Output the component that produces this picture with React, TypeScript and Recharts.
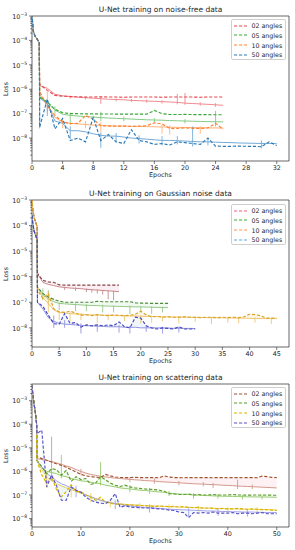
import React from 'react';
import {
  ComposedChart,
  Line,
  Area,
  XAxis,
  YAxis,
  ReferenceArea,
  ErrorBar,
} from 'recharts';

const FONT = '"DejaVu Sans", sans-serif';
const INK = '#262626';

const ANGLES = ['02 angles', '05 angles', '10 angles', '50 angles'];

const upTo = (n: number) => Array.from({ length: n }, (_, i) => i + 1);
const HEAD_EPOCHS = [0, 0.15, 0.4, 0.7, 0.95];

// ---------- noise-free ----------
const nfEpochs = [...HEAD_EPOCHS, ...upTo(25)];
const nfEpochs50 = [...HEAD_EPOCHS, ...upTo(32)];
const nfHead = [1.2e-3, 2.5e-4, 1.5e-4, 1.1e-4, 8e-5];

const nf02Val = [...nfHead, 1.6e-6, 9e-7, 5.6e-7, 5.2e-7, 5e-7, 4.9e-7, 4.8e-7, 4.8e-7, 4.9e-7, 4.8e-7, 4.8e-7, 4.7e-7, 4.8e-7, 4.8e-7, 4.8e-7, 4.8e-7, 4.7e-7, 4.8e-7, 4.8e-7, 4.8e-7, 4.8e-7, 4.7e-7, 4.8e-7, 4.8e-7, 4.8e-7];
const nf02Train = [...nfHead, 1.4e-6, 1.1e-6, 6.2e-7, 5.4e-7, 5e-7, 4.7e-7, 4.5e-7, 4.3e-7, 4.1e-7, 3.9e-7, 3.8e-7, 3.7e-7, 3.5e-7, 3.4e-7, 3.3e-7, 3.2e-7, 3.1e-7, 3e-7, 2.9e-7, 2.7e-7, 2.6e-7, 2.5e-7, 2.4e-7, 2.3e-7, 2.2e-7];
const nf02Spikes = [[5, 4.2e-7, 5.5e-7], [7, 3.8e-7, 5e-7], [9, 2.5e-7, 4.8e-7], [11, 3.2e-7, 4.2e-7], [13, 3e-7, 4e-7], [15, 2.8e-7, 3.8e-7], [17, 2.6e-7, 3.5e-7], [19, 2.4e-7, 6.5e-7], [20, 2.3e-7, 7e-7], [22, 2.1e-7, 2.9e-7], [24, 1.9e-7, 2.7e-7]];

const nf05Val = [...nfHead, 4.8e-7, 3e-7, 1.5e-7, 1.1e-7, 1e-7, 1e-7, 9.8e-8, 9.8e-8, 9.7e-8, 9.7e-8, 9.6e-8, 9.6e-8, 9.5e-8, 9.5e-8, 9.5e-8, 1.35e-7, 1e-7, 9.2e-8, 9.2e-8, 9.3e-8, 9.2e-8, 9.1e-8, 9.1e-8, 9e-8, 9e-8];
const nf05Train = [...nfHead, 4.5e-7, 2.8e-7, 1.4e-7, 9.5e-8, 8.5e-8, 8e-8, 7.6e-8, 7.2e-8, 6.9e-8, 6.6e-8, 6.4e-8, 6.2e-8, 6e-8, 5.8e-8, 5.6e-8, 5.5e-8, 5.4e-8, 5.2e-8, 5.1e-8, 5e-8, 4.9e-8, 4.8e-8, 4.7e-8, 4.65e-8, 4.6e-8];
const nf05Spikes = [[3, 1e-7, 2e-7], [5, 3.5e-8, 1.1e-7], [9, 5e-8, 1.2e-7], [12, 4.8e-8, 7.5e-8], [16, 4.5e-8, 6.5e-8], [20, 4e-8, 6e-8], [24, 3e-8, 1.3e-7]];

const nf10Val = [...nfHead, 8e-7, 2e-7, 8.5e-8, 4.6e-8, 3.9e-8, 4e-8, 8.5e-8, 6e-8, 3.2e-8, 3.1e-8, 3.1e-8, 3.1e-8, 3e-8, 3.1e-8, 3.2e-8, 4.2e-8, 3.8e-8, 2.5e-8, 2.5e-8, 2.6e-8, 2.5e-8, 2.5e-8, 2.6e-8, 4e-8, 2.3e-8];
const nf10Train = [...nfHead, 6e-7, 2.5e-7, 7e-8, 4.5e-8, 4e-8, 3.8e-8, 3.6e-8, 3.4e-8, 3.3e-8, 3.2e-8, 3.1e-8, 3.1e-8, 3e-8, 3e-8, 2.95e-8, 2.9e-8, 2.85e-8, 2.8e-8, 2.75e-8, 2.7e-8, 2.7e-8, 2.65e-8, 2.6e-8, 2.6e-8, 2.55e-8];
const nf10Spikes = [[2, 1.2e-7, 8e-7], [4, 2.5e-8, 6e-8], [7, 2.5e-8, 5e-8], [9, 1.8e-8, 4.5e-8], [17, 1.5e-8, 3.5e-8], [18, 1.4e-8, 3.3e-8], [22, 1.5e-8, 3e-8]];

const nf50Val = [...nfHead, 2.8e-8, 4e-7, 2.4e-8, 6.3e-8, 8e-9, 1e-8, 7e-9, 7e-8, 8e-9, 1.4e-8, 7e-9, 6e-9, 2.2e-8, 8e-9, 7e-9, 5.5e-9, 6e-9, 5.2e-9, 7e-9, 6.5e-9, 6e-9, 5.5e-9, 1e-8, 4.7e-9, 4.6e-9, 4.6e-9, 4.7e-9, 4.6e-9, 4.6e-9, 4.4e-9, 7e-9, 5e-9];
const nf50Train = [...nfHead, 4.5e-7, 2.5e-7, 5e-8, 4e-8, 2e-8, 2e-8, 1.8e-8, 1.5e-8, 1.3e-8, 1.2e-8, 1.2e-8, 1.1e-8, 1e-8, 9.5e-9, 9e-9, 8.5e-9, 8e-9, 8e-9, 7.8e-9, 7.5e-9, 7.3e-9, 7e-9, 7e-9, 6.8e-9, 6.6e-9, 6.5e-9, 6.3e-9, 6.2e-9, 6.1e-9, 6e-9, 6e-9, 5.9e-9];
const nf50Spikes = [[1, 2.5e-8, 4.5e-7], [2, 8e-8, 3.5e-7], [5, 9e-9, 3e-8], [9, 4e-9, 1.7e-8], [11, 7e-9, 1.6e-8], [14, 6e-9, 1.3e-8], [17, 5e-9, 1.2e-8], [19, 5.5e-9, 1.2e-8], [21, 4.5e-9, 3e-8], [23, 5e-9, 1e-8], [30, 3.8e-9, 8e-9]];

// ---------- gaussian noise ----------
const gnEpochs02 = [...HEAD_EPOCHS, ...upTo(16)];
const gnEpochs05 = [...HEAD_EPOCHS, ...upTo(25)];
const gnEpochs10 = [...HEAD_EPOCHS, ...upTo(45)];
const gnEpochs50 = [...HEAD_EPOCHS, ...upTo(30)];
const gnHeadHigh = [1.2e-3, 4e-4, 2e-4, 1.3e-4, 9e-5];
const gnHeadLow = [2.5e-4, 1.2e-4, 6e-5, 4e-5, 2.7e-5];

const gn02Val = [...gnHeadHigh, 1.35e-6, 7.2e-7, 6.3e-7, 6e-7, 4.8e-7, 4.7e-7, 4.7e-7, 4.7e-7, 4.7e-7, 4.7e-7, 4.7e-7, 4.7e-7, 4.7e-7, 4.7e-7, 4.7e-7, 4.7e-7];
const gn02Train = [...gnHeadHigh, 1.3e-6, 6e-7, 5e-7, 4.5e-7, 4e-7, 3.8e-7, 3.6e-7, 3.5e-7, 3.4e-7, 3.2e-7, 3.1e-7, 3e-7, 2.9e-7, 2.8e-7, 2.7e-7, 2.6e-7];
const gn02Spikes = [[6, 3e-7, 4e-7], [8, 2.8e-7, 3.8e-7], [10, 2.5e-7, 3.5e-7], [11, 2.4e-7, 3.3e-7], [12, 2.2e-7, 3.2e-7], [13, 2e-7, 3e-7], [14, 1.3e-7, 2.9e-7], [15, 1.2e-7, 2.8e-7]];

const gn05Val = [...gnHeadLow, 4e-7, 2.2e-7, 1.6e-7, 1.3e-7, 1.1e-7, 1e-7, 1e-7, 1e-7, 1e-7, 1e-7, 1e-7, 1.1e-7, 1.05e-7, 1.05e-7, 1.05e-7, 1.05e-7, 1.05e-7, 1.05e-7, 9.5e-8, 9.2e-8, 9.2e-8, 9e-8, 9e-8, 9e-8, 9e-8];
const gn05Train = [...gnHeadLow, 3.5e-7, 2e-7, 1.3e-7, 1.05e-7, 9e-8, 8.7e-8, 8.4e-8, 8.1e-8, 7.9e-8, 7.6e-8, 7.5e-8, 7.4e-8, 7.2e-8, 7.1e-8, 7e-8, 6.9e-8, 6.8e-8, 6.7e-8, 6.6e-8, 6.6e-8, 6.5e-8, 6.4e-8, 6.3e-8, 6.2e-8, 6.2e-8];
const gn05Spikes = [[2, 1.2e-7, 3.5e-7], [3, 8e-8, 3e-7], [5, 5e-8, 1e-7], [8, 4.5e-8, 9e-8], [10, 4.5e-8, 8.5e-8], [13, 4e-8, 8e-8], [15, 4e-8, 7.5e-8], [18, 3.5e-8, 7.5e-8], [20, 4e-8, 7e-8], [22, 3.5e-8, 7e-8], [24, 4e-8, 6.8e-8]];

const gn10Val = [...gnHeadHigh,
  3e-7, 1.4e-7, 2.2e-7, 5.6e-8, 4.2e-8, 4e-8, 4.5e-8, 3.8e-8, 3.1e-8, 3.2e-8,
  3e-8, 3.3e-8, 3.1e-8, 3e-8, 3.2e-8, 3.1e-8, 3e-8, 3.1e-8, 3.4e-8, 4.5e-8,
  3.2e-8, 2.7e-8, 2.8e-8, 2.6e-8, 2.7e-8, 2.6e-8, 2.6e-8, 2.7e-8, 2.6e-8, 2.6e-8,
  2.5e-8, 2.6e-8, 2.6e-8, 2.5e-8, 2.6e-8, 2.5e-8, 2.6e-8, 2.5e-8, 2.7e-8, 3.4e-8,
  3.3e-8, 3e-8, 2.4e-8, 2.4e-8, 2.4e-8];
const gn10Train = [...gnHeadHigh,
  4e-7, 1.5e-7, 9e-8, 5e-8, 4e-8, 3.8e-8, 3.6e-8, 3.5e-8, 3.4e-8, 3.3e-8,
  3.2e-8, 3.2e-8, 3.1e-8, 3.1e-8, 3e-8, 3e-8, 2.95e-8, 2.9e-8, 2.9e-8, 2.85e-8,
  2.8e-8, 2.8e-8, 2.75e-8, 2.7e-8, 2.7e-8, 2.65e-8, 2.65e-8, 2.6e-8, 2.6e-8, 2.55e-8,
  2.55e-8, 2.5e-8, 2.5e-8, 2.5e-8, 2.45e-8, 2.45e-8, 2.4e-8, 2.4e-8, 2.4e-8, 2.35e-8,
  2.35e-8, 2.3e-8, 2.3e-8, 2.3e-8, 2.3e-8];
const gn10Spikes = [[3, 4e-8, 2.5e-7], [5, 2e-8, 4.5e-8], [7, 1.8e-8, 4e-8], [9, 2e-8, 3.8e-8], [12, 1.5e-8, 3.5e-8], [14, 2e-8, 3.4e-8], [17, 1.8e-8, 3.2e-8], [20, 1.5e-8, 3.1e-8], [22, 1.6e-8, 3e-8], [24, 1.8e-8, 2.9e-8], [27, 1.5e-8, 2.9e-8], [30, 1.7e-8, 2.8e-8], [33, 1.4e-8, 2.7e-8], [36, 1.6e-8, 2.6e-8], [38, 1.5e-8, 2.6e-8], [41, 1.6e-8, 2.5e-8], [44, 1.4e-8, 2.5e-8]];

const gn50Val = [...gnHeadLow,
  1e-7, 7e-8, 3.1e-8, 1.45e-8, 1.4e-8, 3.6e-8, 1.5e-8, 1.6e-8, 1.07e-8, 1.3e-8,
  1.2e-8, 1.3e-8, 1.2e-8, 1.3e-8, 1.2e-8, 1.7e-8, 1.1e-8, 1e-8, 2.6e-8, 2.4e-8,
  1.2e-8, 1e-8, 9e-9, 1e-8, 9.5e-9, 9e-9, 1.1e-8, 9e-9, 9e-9, 9e-9];
const gn50Train = [...gnHeadLow,
  1e-7, 5.5e-8, 2.5e-8, 1.8e-8, 1.5e-8, 1.4e-8, 1.35e-8, 1.3e-8, 1.25e-8, 1.2e-8,
  1.2e-8, 1.15e-8, 1.15e-8, 1.1e-8, 1.1e-8, 1.1e-8, 1.05e-8, 1.05e-8, 1.05e-8, 1e-8,
  1e-8, 1e-8, 1e-8, 9.8e-9, 9.8e-9, 9.6e-9, 9.6e-9, 9.5e-9, 9.5e-9, 9.4e-9];
const gn50Spikes = [[4, 1e-8, 3e-8], [6, 1e-8, 2e-8], [9, 6e-9, 1.5e-8], [12, 7e-9, 1.4e-8], [16, 6.5e-9, 1.3e-8], [18, 6e-9, 1.2e-8], [21, 7e-9, 1.2e-8], [24, 6e-9, 1.1e-8], [27, 6.5e-9, 1.1e-8]];

// ---------- scattering ----------
const scEpochs = [...HEAD_EPOCHS, ...upTo(50)];
const scHead = [4.5e-3, 2e-3, 8e-4, 3e-4, 1e-4];

const sc02Val = [...scHead,
  4.2e-6, 3.5e-6, 3e-6, 2.5e-6, 2.1e-6, 1.8e-6, 1.5e-6, 1.2e-6, 9.5e-7, 7.5e-7,
  6.5e-7, 6e-7, 5.7e-7, 5.5e-7, 7.5e-7, 6.5e-7, 5.8e-7, 5.6e-7, 5.5e-7, 5.5e-7,
  5.6e-7, 5.5e-7, 5.4e-7, 5.5e-7, 5.5e-7, 5.4e-7, 6.5e-7, 5.8e-7, 5.5e-7, 5.5e-7,
  5.4e-7, 5.5e-7, 5.5e-7, 5.4e-7, 5.5e-7, 5.5e-7, 5.4e-7, 5.5e-7, 5.5e-7, 5.4e-7,
  5.5e-7, 5.5e-7, 5.4e-7, 5.5e-7, 5.5e-7, 5.4e-7, 6.3e-7, 6e-7, 5.6e-7, 5.5e-7];
const sc02Train = [...scHead,
  3.5e-6, 3.2e-6, 2.9e-6, 2.6e-6, 2.3e-6, 2e-6, 1.7e-6, 1.5e-6, 1.2e-6, 1e-6,
  8.5e-7, 7.5e-7, 6.8e-7, 6.2e-7, 5.8e-7, 5.5e-7, 5.2e-7, 5e-7, 4.8e-7, 4.6e-7,
  4.4e-7, 4.3e-7, 4.1e-7, 4e-7, 3.9e-7, 3.7e-7, 3.6e-7, 3.5e-7, 3.4e-7, 3.3e-7,
  3.2e-7, 3.1e-7, 3e-7, 2.95e-7, 2.9e-7, 2.8e-7, 2.75e-7, 2.7e-7, 2.6e-7, 2.55e-7,
  2.5e-7, 2.4e-7, 2.35e-7, 2.3e-7, 2.25e-7, 2.2e-7, 2.15e-7, 2.1e-7, 2.05e-7, 2e-7];
const sc02Spikes = [[10, 7e-7, 1.3e-6], [20, 3.5e-7, 5.5e-7], [25, 3e-7, 5e-7], [30, 2.6e-7, 4e-7], [35, 2.3e-7, 3.5e-7], [37, 2e-7, 3.3e-7], [42, 1.8e-7, 4.5e-7], [45, 1.8e-7, 2.8e-7]];

const sc05Val = [...scHead,
  2.9e-6, 1.6e-6, 8e-7, 1.3e-6, 1.2e-6, 7e-7, 1.1e-6, 3.8e-7, 6e-7, 4.5e-7,
  5e-7, 2.8e-7, 3.2e-7, 6e-7, 4.5e-7, 3.2e-7, 2.6e-7, 2.3e-7, 2.6e-7, 2.2e-7,
  2e-7, 1.9e-7, 1.8e-7, 1.75e-7, 1.7e-7, 1.6e-7, 1.45e-7, 1.15e-7, 1.1e-7, 1.05e-7,
  1.05e-7, 1.1e-7, 1e-7, 1.05e-7, 1e-7, 1e-7, 1.05e-7, 1e-7, 1e-7, 1e-7,
  1.05e-7, 1e-7, 1e-7, 9.8e-8, 1e-7, 1e-7, 9.8e-8, 1e-7, 9.8e-8, 9.8e-8];
const sc05Train = [...scHead,
  3e-6, 1.5e-6, 1e-6, 9e-7, 8e-7, 6.5e-7, 6e-7, 5e-7, 4.5e-7, 4e-7,
  3.8e-7, 3.5e-7, 3.2e-7, 3e-7, 2.6e-7, 2.4e-7, 2.2e-7, 2e-7, 1.9e-7, 1.8e-7,
  1.7e-7, 1.6e-7, 1.55e-7, 1.5e-7, 1.4e-7, 1.35e-7, 1.3e-7, 1.2e-7, 1.15e-7, 1.1e-7,
  1.07e-7, 1.05e-7, 1e-7, 9.8e-8, 9.6e-8, 9.4e-8, 9.2e-8, 9e-8, 8.9e-8, 8.8e-8,
  8.7e-8, 8.6e-8, 8.5e-8, 8.4e-8, 8.3e-8, 8.3e-8, 8.2e-8, 8.2e-8, 8.1e-8, 8e-8];
const sc05Spikes = [[6, 5e-7, 5e-6], [14, 2.5e-7, 2.5e-6], [20, 1.3e-7, 2.6e-7], [24, 1.1e-7, 2e-7], [28, 9e-8, 1.5e-7], [33, 7e-8, 1.2e-7], [38, 7e-8, 1.1e-7], [43, 6.5e-8, 1e-7], [47, 6.5e-8, 9.5e-8]];

const sc10Val = [...scHead,
  3e-6, 7e-7, 3.2e-7, 6e-7, 1.7e-7, 8.3e-8, 1.4e-7, 2.7e-7, 1.4e-7, 1.4e-7,
  1e-7, 8e-8, 5.9e-8, 8e-8, 5e-8, 4.5e-8, 4e-8, 4.2e-8, 3.9e-8, 3.8e-8,
  3.7e-8, 3.6e-8, 3.5e-8, 3.4e-8, 3.3e-8, 3.4e-8, 3.3e-8, 3.2e-8, 3.3e-8, 3.1e-8,
  3.2e-8, 3e-8, 2.9e-8, 3e-8, 2.7e-8, 2.8e-8, 2.7e-8, 2.6e-8, 2.7e-8, 2.6e-8,
  2.6e-8, 2.7e-8, 2.6e-8, 2.5e-8, 2.6e-8, 2.5e-8, 2.4e-8, 2.4e-8, 2.3e-8, 2.2e-8];
const sc10Train = [...scHead,
  3e-6, 1.2e-6, 6e-7, 4e-7, 3e-7, 2.4e-7, 2e-7, 1.7e-7, 1.4e-7, 1.2e-7,
  1e-7, 8.5e-8, 7e-8, 6e-8, 5e-8, 4.7e-8, 4.4e-8, 4.2e-8, 4e-8, 3.9e-8,
  3.8e-8, 3.7e-8, 3.6e-8, 3.5e-8, 3.4e-8, 3.35e-8, 3.3e-8, 3.2e-8, 3.15e-8, 3.1e-8,
  3.05e-8, 3e-8, 2.95e-8, 2.9e-8, 2.85e-8, 2.8e-8, 2.75e-8, 2.7e-8, 2.65e-8, 2.6e-8,
  2.6e-8, 2.55e-8, 2.5e-8, 2.5e-8, 2.45e-8, 2.45e-8, 2.4e-8, 2.4e-8, 2.35e-8, 2.35e-8];
const sc10Spikes = [[3, 2e-7, 1e-6], [8, 8e-8, 2.5e-7], [12, 5e-8, 1.2e-7], [16, 3e-8, 6e-8], [22, 2.5e-8, 4.5e-8], [28, 2.2e-8, 4e-8], [34, 2e-8, 3.5e-8], [40, 1.8e-8, 3e-8], [46, 1.8e-8, 3e-8]];

const sc50Val = [...scHead,
  4e-5, 5.6e-5, 2.2e-7, 7e-7, 2.5e-7, 6e-8, 6e-8, 2.2e-7, 1.6e-7, 1.3e-7,
  8e-8, 6e-8, 5e-8, 4.5e-8, 4.3e-8, 6e-8, 1.15e-7, 3e-8, 3.5e-8, 3.1e-8,
  3e-8, 2.9e-8, 2.8e-8, 2.8e-8, 2.7e-8, 2.6e-8, 2.5e-8, 2.3e-8, 2.2e-8, 1.9e-8,
  1.8e-8, 1.1e-8, 1.8e-8, 1.7e-8, 1.8e-8, 1.7e-8, 1.9e-8, 1.7e-8, 1.7e-8, 1.7e-8,
  1.8e-8, 1.6e-8, 1.7e-8, 1.7e-8, 1.6e-8, 1.7e-8, 1.8e-8, 1.6e-8, 1.6e-8, 1.6e-8];
const sc50Train = [...scHead,
  3e-6, 1.5e-6, 8e-7, 6e-7, 4e-7, 3e-7, 2.5e-7, 2e-7, 1.6e-7, 1.3e-7,
  1e-7, 8.5e-8, 7e-8, 6e-8, 5.2e-8, 4.7e-8, 4.3e-8, 4e-8, 3.7e-8, 3.5e-8,
  3.3e-8, 3.1e-8, 3e-8, 2.9e-8, 2.8e-8, 2.7e-8, 2.6e-8, 2.5e-8, 2.45e-8, 2.4e-8,
  2.35e-8, 2.3e-8, 2.25e-8, 2.2e-8, 2.15e-8, 2.1e-8, 2.1e-8, 2.05e-8, 2e-8, 2e-8,
  1.95e-8, 1.95e-8, 1.9e-8, 1.9e-8, 1.9e-8, 1.85e-8, 1.85e-8, 1.8e-8, 1.8e-8, 1.8e-8];
const sc50Spikes = [[4, 4e-7, 3e-5], [9, 8e-8, 2.5e-7], [17, 2.5e-8, 6e-8], [24, 1.8e-8, 4e-8], [32, 1.2e-8, 3e-8], [38, 1.3e-8, 2.8e-8], [44, 1.2e-8, 2.5e-8]];

// ---------- helpers ----------
type Series = {
  epochs: number[];
  val: number[];
  train: number[];
  spikes: number[][];
  dash: string;
  solid: string;
  swatch: string;
  band?: string;
};

function buildRows(s: Series) {
  return s.epochs.map((epoch, i) => {
    const train = s.train[i];
    const spike = s.spikes.find((p) => p[0] === epoch);
    return {
      epoch,
      val: s.val[i],
      train,
      band: [train, s.val[i]],
      err: spike ? [Math.max(0, train - spike[1]), Math.max(0, spike[2] - train)] : undefined,
    };
  });
}

function logTicks(lo: number, hi: number) {
  const out: number[] = [];
  for (let e = Math.floor(Math.log10(lo)); e <= Math.ceil(Math.log10(hi)); e++) {
    for (let m = 1; m < 10; m++) {
      const v = m * Math.pow(10, e);
      if (v >= lo && v <= hi) out.push(v);
    }
  }
  return out;
}

const YTick = (props: any) => {
  const { x, y, payload } = props;
  const lg = Math.log10(payload.value);
  const exp = Math.round(lg);
  const major = Math.abs(lg - exp) < 1e-6;
  return (
    <g>
      <line x1={x - (major ? 3 : 1.8)} x2={x} y1={y} y2={y} stroke={INK} strokeWidth={0.6} />
      {major && (
        <text x={x - 4.8} y={y + 2.8} textAnchor="end" fontSize={6.4} fill={INK} fontFamily={FONT}>
          10
          <tspan dy={-3} fontSize={4.6}>
            {'\u2212' + -exp}
          </tspan>
        </text>
      )}
    </g>
  );
};

const XTick = (props: any) => {
  const { x, y, payload } = props;
  return (
    <g>
      <line x1={x} x2={x} y1={y} y2={y + 3} stroke={INK} strokeWidth={0.6} />
      <text x={x} y={y + 8.8} textAnchor="middle" fontSize={6.4} fill={INK} fontFamily={FONT}>
        {payload.value}
      </text>
    </g>
  );
};

type PanelProps = {
  top: number;
  height: number;
  plotTop: number;
  xAxisHeight: number;
  xMax: number;
  xTicks: number[];
  yDomain: [number, number];
  series: Series[];
  title: string;
  legendTop: number;
  showBands?: boolean;
};

function Panel(p: PanelProps) {
  const plotBottom = p.top + p.height - p.xAxisHeight;
  const ticks = logTicks(p.yDomain[0], p.yDomain[1]);
  const rows = p.series.map(buildRows);
  return (
    <>
      <div style={{ position: 'absolute', left: 0, top: p.top }}>
        <ComposedChart
          width={295}
          height={p.height}
          margin={{ top: p.plotTop - p.top, right: 6, left: 0, bottom: 0 }}
        >
          <XAxis
            dataKey="epoch"
            type="number"
            domain={[0, p.xMax]}
            allowDataOverflow
            ticks={p.xTicks}
            interval={0}
            height={p.xAxisHeight}
            tickSize={0}
            tickMargin={0}
            axisLine={false}
            tickLine={false}
            tick={<XTick />}
          />
          <YAxis
            scale="log"
            type="number"
            domain={p.yDomain}
            allowDataOverflow
            ticks={ticks}
            interval={0}
            width={32}
            tickSize={0}
            tickMargin={0}
            axisLine={false}
            tickLine={false}
            tick={<YTick />}
          />
          {p.showBands &&
            p.series.map((s, i) => (
              <Area
                key={`band-${i}`}
                data={rows[i].slice(6)}
                dataKey="band"
                stroke="none"
                fill={s.band}
                fillOpacity={0.3}
                isAnimationActive={false}
              />
            ))}
          {p.series.map((s, i) => (
            <Line
              key={`train-${i}`}
              data={rows[i]}
              dataKey="train"
              stroke={s.solid}
              strokeWidth={1}
              dot={false}
              isAnimationActive={false}
            >
              <ErrorBar dataKey="err" width={0} stroke={s.solid} strokeWidth={0.9} />
            </Line>
          ))}
          {p.series.map((s, i) => (
            <Line
              key={`val-${i}`}
              data={rows[i]}
              dataKey="val"
              stroke={s.dash}
              strokeWidth={1.15}
              strokeDasharray="3.2 1.8"
              dot={false}
              isAnimationActive={false}
            />
          ))}
          <ReferenceArea
            x1={0}
            x2={p.xMax}
            y1={p.yDomain[0]}
            y2={p.yDomain[1]}
            fill="none"
            stroke={INK}
            strokeWidth={0.7}
            ifOverflow="visible"
          />
        </ComposedChart>
      </div>
      <div style={{ ...centered(160.5, p.plotTop - 7), fontSize: 7.5 }}>{p.title}</div>
      <div
        style={{
          ...centered(6, (p.plotTop + plotBottom) / 2),
          fontSize: 6.4,
          transform: 'translate(-50%, -50%) rotate(-90deg)',
        }}
      >
        Loss
      </div>
      <div style={{ ...centered(160.5, plotBottom + 14.3), fontSize: 6.4 }}>Epochs</div>
      <div
        style={{
          position: 'absolute',
          left: 231,
          top: p.legendTop,
          width: 55,
          height: 41,
          border: '0.7px solid #cfcfcf',
          borderRadius: 2,
          background: 'rgba(255,255,255,0.85)',
          boxSizing: 'border-box',
        }}
      >
        {p.series.map((s, i) => (
          <div
            key={ANGLES[i]}
            style={{
              position: 'absolute',
              left: 1.5,
              top: 1.2 + i * 9.65,
              height: 9,
              display: 'flex',
              alignItems: 'center',
              fontFamily: FONT,
              fontSize: 6.3,
              color: INK,
              whiteSpace: 'nowrap',
            }}
          >
            <svg width={14} height={4} style={{ marginRight: 4 }}>
              <line x1={0} x2={13} y1={2} y2={2} stroke={s.swatch} strokeWidth={1.1} strokeDasharray="3.2 1.8" />
            </svg>
            {ANGLES[i]}
          </div>
        ))}
      </div>
    </>
  );
}

function centered(x: number, y: number): React.CSSProperties {
  return {
    position: 'absolute',
    left: x,
    top: y,
    transform: 'translate(-50%, -50%)',
    fontFamily: FONT,
    color: INK,
    whiteSpace: 'nowrap',
  };
}

const noiseFreeSeries: Series[] = [
  { epochs: nfEpochs, val: nf02Val, train: nf02Train, spikes: nf02Spikes, dash: '#e6484f', solid: '#f08a90', swatch: '#e6484f' },
  { epochs: nfEpochs, val: nf05Val, train: nf05Train, spikes: nf05Spikes, dash: '#38a838', solid: '#84cc84', swatch: '#38a838' },
  { epochs: nfEpochs, val: nf10Val, train: nf10Train, spikes: nf10Spikes, dash: '#ff8030', solid: '#ffb27a', swatch: '#ff8030' },
  { epochs: nfEpochs50, val: nf50Val, train: nf50Train, spikes: nf50Spikes, dash: '#2a7ab8', solid: '#74aad6', swatch: '#2a7ab8' },
];

const gaussianSeries: Series[] = [
  { epochs: gnEpochs02, val: gn02Val, train: gn02Train, spikes: gn02Spikes, dash: '#84474a', solid: '#c98a8e', swatch: '#ef6080', band: '#f9c8d6' },
  { epochs: gnEpochs05, val: gn05Val, train: gn05Train, spikes: gn05Spikes, dash: '#4c8a3c', solid: '#96c88a', swatch: '#3cae3c', band: '#cdeecd' },
  { epochs: gnEpochs10, val: gn10Val, train: gn10Train, spikes: gn10Spikes, dash: '#d9a228', solid: '#efc670', swatch: '#ff9460', band: '#fbe6b4' },
  { epochs: gnEpochs50, val: gn50Val, train: gn50Train, spikes: gn50Spikes, dash: '#4848c0', solid: '#9494e0', swatch: '#5ca8e0', band: '#cde2f6' },
];

const scatteringSeries: Series[] = [
  { epochs: scEpochs, val: sc02Val, train: sc02Train, spikes: sc02Spikes, dash: '#a0522d', solid: '#d49a8c', swatch: '#a0522d', band: '#f9d0da' },
  { epochs: scEpochs, val: sc05Val, train: sc05Train, spikes: sc05Spikes, dash: '#5a9e2a', solid: '#9acc72', swatch: '#5a9e2a', band: '#dcf2cc' },
  { epochs: scEpochs, val: sc10Val, train: sc10Train, spikes: sc10Spikes, dash: '#d8b400', solid: '#e8d266', swatch: '#d8b400', band: '#f8f0c4' },
  { epochs: scEpochs, val: sc50Val, train: sc50Train, spikes: sc50Spikes, dash: '#5a50c8', solid: '#a4a2e6', swatch: '#5a50c8', band: '#d2f0f6' },
];

export default function App() {
  return (
    <div style={{ position: 'absolute', left: 0, top: 0, width: 295, height: 550, background: '#fff' }}>
      <Panel
        top={0}
        height={183}
        plotTop={16}
        xAxisHeight={22}
        xMax={33.6}
        xTicks={[0, 4, 8, 12, 16, 20, 24, 28, 32]}
        yDomain={[1.15e-9, 1e-3]}
        series={noiseFreeSeries}
        title="U-Net training on noise-free data"
        legendTop={19}
      />
      <Panel
        top={183}
        height={183}
        plotTop={200}
        xAxisHeight={19}
        xMax={47.25}
        xTicks={[0, 5, 10, 15, 20, 25, 30, 35, 40, 45]}
        yDomain={[1.78e-9, 1e-3]}
        series={gaussianSeries}
        title="U-Net training on Gaussian noise data"
        legendTop={204}
        showBands
      />
      <Panel
        top={366}
        height={184}
        plotTop={384}
        xAxisHeight={23}
        xMax={52.5}
        xTicks={[0, 10, 20, 30, 40, 50]}
        yDomain={[4.4e-9, 5.1e-3]}
        series={scatteringSeries}
        title="U-Net training on scattering data"
        legendTop={387}
        showBands
      />
    </div>
  );
}
